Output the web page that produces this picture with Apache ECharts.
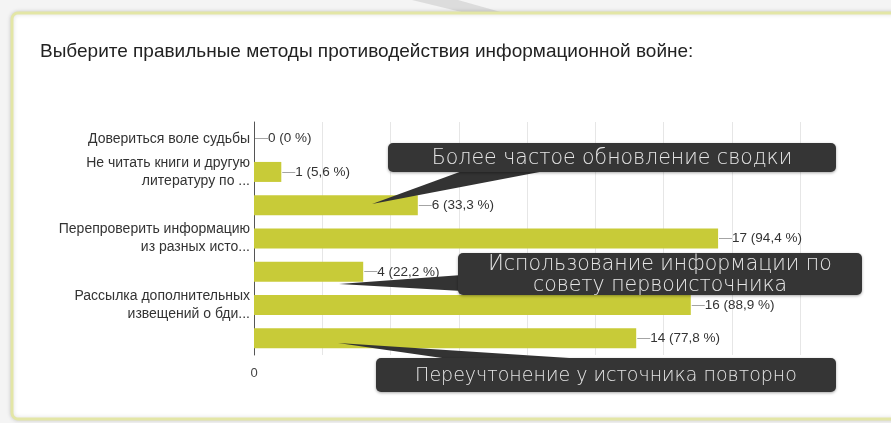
<!DOCTYPE html>
<html>
<head>
<meta charset="utf-8">
<script src="https://cdn.jsdelivr.net/npm/echarts@6/dist/echarts.min.js"></script>
<style>
  html, body { margin: 0; padding: 0; background: #f4f4f4; }
  #chart { width: 891px; height: 423px; }
</style>
</head>
<body>
<div id="chart"></div>
<script>
// ответы на вопрос (всего 18)
const categories = [
  "Довериться воле судьбы",
  "Не читать книги и другую\nлитературу по ...",
  "Более частое обновление сводки",
  "Перепроверить информацию\nиз разных исто...",
  "Использование информации по\nсовету первоисточника",
  "Рассылка дополнительных\nизвещений о бди...",
  "Переучтонение у источника повторно",
];
const counts = [0, 1, 6, 17, 4, 16, 14];
const percents = ["0", "5,6", "33,3", "94,4", "22,2", "88,9", "77,8"];
const shownLabels = [0, 1, 3, 5]; // остальные подписи скрыты, вместо них выноски

const title = "Выберите правильные методы противодействия информационной войне:";
const barColor = "#c8cb38";

const chart = echarts.init(document.getElementById("chart"));

// выноска: тёмный прямоугольник + хвостик
function callout(text, box, tail, size) {
  return {
    type: "group",
    z: 100,
    silent: true,
    children: [
      {
        type: "polygon",
        z: 100,
        shape: { points: tail },
        style: { fill: "#333333" },
      },
      {
        type: "rect",
        z: 100,
        shape: { x: box[0], y: box[1], width: box[2], height: box[3], r: 5 },
        style: {
          fill: "#353535",
          shadowBlur: 3,
          shadowColor: "rgba(0,0,0,0.35)",
          shadowOffsetY: 1,
        },
      },
      {
        type: "text",
        z: 101,
        x: box[0] + box[2] / 2,
        y: box[1] + box[3] / 2 + 1,
        style: {
          text: text,
          fill: "#e6e6e6",
          font: "300 " + (size || 20) + 'px "DejaVu Sans"',
          align: "center",
          verticalAlign: "middle",
          lineHeight: 21,
        },
      },
    ],
  };
}

chart.setOption({
  animation: false,
  backgroundColor: "#f4f4f4",
  grid: {
    left: 254,
    right: 91,
    top: 122,
    bottom: 68,
    show: true,
    borderColor: "#e6e6e6",
    borderWidth: 1,
  },
  xAxis: {
    type: "value",
    min: 0,
    max: 20,
    interval: 2.5,
    axisLine: { show: false },
    axisTick: { show: false },
    splitLine: { lineStyle: { color: "#e6e6e6" } },
    axisLabel: {
      margin: 12,
      color: "#444",
      fontSize: 13,
      fontFamily: "Liberation Sans",
      formatter: (v) => (v === 0 ? "0" : ""),
    },
  },
  yAxis: {
    type: "category",
    inverse: true,
    data: categories,
    axisLine: { lineStyle: { color: "#555", width: 1 } },
    axisTick: { show: false },
    axisLabel: {
      margin: 4,
      color: "#333",
      fontSize: 14,
      fontFamily: "Liberation Sans",
      lineHeight: 18,
      align: "right",
      interval: (i) => shownLabels.includes(i),
    },
  },
  series: [
    {
      type: "bar",
      data: counts,
      barWidth: 20,
      itemStyle: { color: barColor },
      label: {
        show: true,
        position: "right",
        distance: 1,
        formatter: (p) => "{d|—}{t|" + counts[p.dataIndex] + " (" + percents[p.dataIndex] + " %)}",
        rich: {
          d: { color: "#999", fontSize: 13, fontFamily: "Liberation Sans" },
          t: { color: "#333", fontSize: 13.5, fontFamily: "Liberation Sans" },
        },
      },
    },
  ],
  graphic: [
    {
      type: "group",
      z: -10,
      silent: true,
      children: [
        // полоса у верхнего края
        {
          type: "polygon",
          shape: { points: [[412, 0], [458, 0], [600, 40], [585, 42]] },
          style: { fill: "#d6d6d6", opacity: 0.8 },
        },
        // карточка
        {
          type: "rect",
          shape: { x: 12, y: 13, width: 900, height: 406, r: 6 },
          style: {
            fill: "#ffffff",
            stroke: "#e3e6a6",
            lineWidth: 3,
            shadowBlur: 4,
            shadowColor: "rgba(0,0,0,0.15)",
          },
        },
        {
          type: "text",
          x: 40,
          y: 52,
          style: {
            text: title,
            fill: "#222",
            font: '19px "Liberation Sans"',
            verticalAlign: "middle",
          },
        },
      ],
    },
    callout(categories[2], [388, 143, 448, 29], [[372, 204], [465, 170], [550, 170]], 20.5),
    callout(categories[4], [458, 253, 404, 42], [[339, 284], [462, 275], [462, 291]], 20.5),
    callout(categories[6], [376, 358, 460, 34], [[338, 343], [600, 360], [456, 360]], 19),
  ],
});
</script>
</body>
</html>
